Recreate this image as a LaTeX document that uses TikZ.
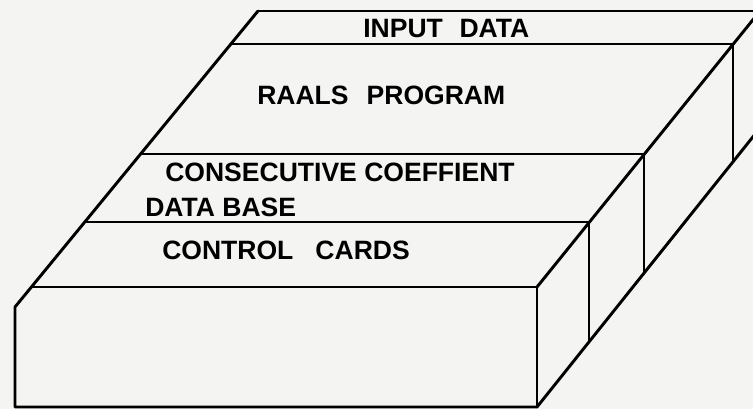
\documentclass[tikz,border=0pt]{standalone}
\usepackage{fontspec}
\setmainfont{Liberation Sans}
\definecolor{paper}{RGB}{244,244,242}
\begin{document}
\begin{tikzpicture}[x=0.75pt,y=-0.75pt,
  edge/.style={line width=2.2pt, line cap=round, line join=round},
  lbl/.style={anchor=base west, inner sep=0pt, font=\bfseries\fontsize{19.9}{22}\selectfont}]
\fill[paper] (0,0) rectangle (753,409);
\useasboundingbox (0,0) rectangle (753,409);
% corner points
\coordinate (tl) at (258,11);
\coordinate (tr) at (760,11);
\coordinate (a1) at (231,44);  \coordinate (b1) at (733,44);
\coordinate (a2) at (141,154); \coordinate (b2) at (644,154);
\coordinate (a3) at (85,222);  \coordinate (b3) at (589,222);
\coordinate (a4) at (32,287);  \coordinate (b4) at (537,287);
\coordinate (fl) at (15,307);
\coordinate (bl) at (15,407);
\coordinate (br) at (537,407);
\coordinate (c3) at (589,342);
\coordinate (c2) at (644,273);
\coordinate (c1) at (733,162);
\coordinate (c0) at (760,128);
\begin{scope}
\clip (0,0) rectangle (753,409);
\draw[edge] (tl) -- (tr) -- (c0);
\draw[edge] (tl) -- (fl) -- (bl) -- (br) -- (c0);
\draw[edge] (tr) -- (b4);
\draw[edge] (a1) -- (b1) -- (c1);
\draw[edge] (a2) -- (b2) -- (c2);
\draw[edge] (a3) -- (b3) -- (c3);
\draw[edge] (a4) -- (b4) -- (br);
\end{scope}
\node[lbl] (input) at (363,38) {INPUT\hspace{7pt} DATA};
\node[lbl] (raals) at (257,105) {RAALS\hspace{8pt} PROGRAM};
\node[lbl] (cons) at (165,182) {CONSECUTIVE COEFFIENT};
\node[lbl] (dbase) at (145,217) {DATA BASE};
\node[lbl] (ctrl) at (162,260) {CONTROL\hspace{11pt} CARDS};
\end{tikzpicture}
\end{document}
